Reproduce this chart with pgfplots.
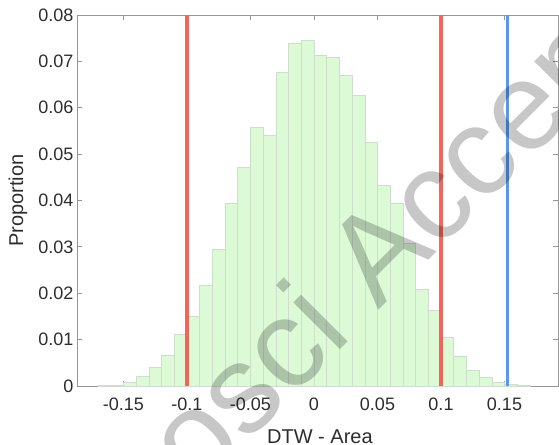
\documentclass[border=0pt]{standalone}
\usepackage{fontspec}
\setmainfont{Liberation Sans}
\usepackage{pgfplots}
\pgfplotsset{compat=1.18}
\definecolor{barfill}{RGB}{220,250,214}
\definecolor{baredge}{RGB}{205,222,203}
\definecolor{redline}{RGB}{245,100,88}
\definecolor{blueline}{RGB}{88,150,240}
\definecolor{axgray}{RGB}{150,150,150}
\definecolor{txtgray}{RGB}{45,45,45}
\begin{document}
\begin{tikzpicture}
\begin{axis}[
  scale only axis,
  width=481pt, height=371pt,
  at={(0pt,0pt)}, anchor=south west,
  xmin=-0.18661, xmax=0.19213,
  ymin=0, ymax=0.08,
  scaled x ticks=false, scaled y ticks=false,
  xtick={-0.15,-0.1,-0.05,0,0.05,0.1,0.15},
  xticklabels={-0.15,-0.1,-0.05,0,0.05,0.1,0.15},
  ytick={0,0.01,0.02,0.03,0.04,0.05,0.06,0.07,0.08},
  yticklabels={0,0.01,0.02,0.03,0.04,0.05,0.06,0.07,0.08},
  /pgf/number format/assume math mode=true,
  tick align=inside,
  xtick pos=both, ytick pos=both,
  xticklabel pos=lower, yticklabel pos=left,
  major tick length=5pt,
  axis line style={axgray, line width=0.8pt},
  every tick/.style={axgray, line width=0.8pt},
  tick label style={font=\fontsize{18}{20}\selectfont, text=txtgray},
  xticklabel style={yshift=-8pt},
  xlabel={DTW - Area},
  ylabel={Proportion},
  every axis x label/.style={at={(axis description cs:0.505,-0.1375)}, anchor=center, font=\fontsize{20}{22}\selectfont, text=txtgray},
  every axis y label/.style={at={(axis description cs:-0.1227,0.5)}, rotate=90, anchor=center, font=\fontsize{20}{22}\selectfont, text=txtgray},
]
\addplot[ybar interval, fill=barfill, draw=baredge, line width=0.6pt] coordinates {
(-0.17,0.0001) (-0.16,0.0002) (-0.15,0.0007) (-0.14,0.0020) (-0.13,0.0040)
(-0.12,0.0067) (-0.11,0.0111) (-0.10,0.0150) (-0.09,0.0218) (-0.08,0.0295)
(-0.07,0.0393) (-0.06,0.0471) (-0.05,0.0557) (-0.04,0.0541) (-0.03,0.0676)
(-0.02,0.0740) (-0.01,0.0746) (0.00,0.0714) (0.01,0.0709) (0.02,0.0669)
(0.03,0.0626) (0.04,0.0525) (0.05,0.0432) (0.06,0.0395) (0.07,0.0308)
(0.08,0.0208) (0.09,0.0164) (0.10,0.0105) (0.11,0.0065) (0.12,0.0033)
(0.13,0.0019) (0.14,0.0009) (0.15,0.0003) (0.16,0.0001) (0.17,0.0001)
};
\addplot[redline, line width=3.4pt] coordinates {(-0.1,0) (-0.1,0.08)};
\addplot[redline, line width=3.4pt] coordinates {(0.1,0) (0.1,0.08)};
\addplot[blueline, line width=2.8pt] coordinates {(0.1524,0) (0.1524,0.08)};
\end{axis}
\node[rotate=45, font=\fontsize{125}{125}\selectfont, text=black, opacity=0.22, anchor=center] at (311pt,130pt) {\llap{Ge}osci Accep\rlap{ted}};
\pgfresetboundingbox
\useasboundingbox (-77pt,-58pt) rectangle (482pt,386pt);
\end{tikzpicture}
\end{document}
